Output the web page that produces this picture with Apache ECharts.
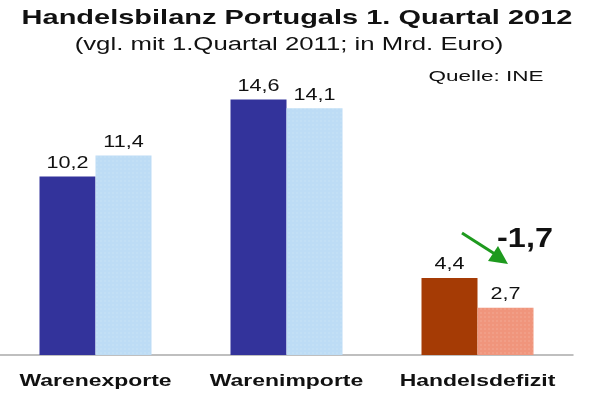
<!DOCTYPE html>
<html><head><meta charset="utf-8">
<script src="https://cdn.jsdelivr.net/npm/echarts@6/dist/echarts.min.js"></script>
<style>html,body{margin:0;padding:0;background:#fff}#main{width:595px;height:400px}</style>
</head><body><div id="main"></div>
<script>
var categories = ['Warenexporte', 'Warenimporte', 'Handelsdefizit'];
var values2011 = [10.2, 14.6, 4.4];
var values2012 = [11.4, 14.1, 2.7];
var colors2011 = ['#33339b', '#33339b', '#a53b05'];
var colors2012 = ['#bddcf5', '#bddcf5', '#f0957c'];
var yearLabels = ['\u201911', '\u201912'];
var change = '-1,7';

var myChart = echarts.init(document.getElementById('main'));
function barData(vals, cols) {
	return vals.map(function (v, i) { return { value: v, itemStyle: { color: cols[i] } }; });
}
var option = {
	animation: false,
	backgroundColor: '#fff',
	grid: { left: -17, width: 590, top: 75, bottom: 45 },
	xAxis: {
		type: 'category', data: categories,
		axisLine: { lineStyle: { color: '#aaa', width: 1.5 } },
		axisTick: { show: false },
		axisLabel: { show: false }
	},
	yAxis: { type: 'value', min: 0, max: 16, show: false, splitLine: { show: false } },
	series: [{
		type: 'bar', barWidth: 56, barGap: '0%', data: barData(values2011, colors2011)
	}, {
		type: 'bar', barWidth: 56, data: barData(values2012, colors2012),
		itemStyle: { decal: { symbol: 'rect', symbolSize: 0.5, color: 'rgba(255,255,255,0.35)', dashArrayX: [2, 2], dashArrayY: [2, 2] } }
	}]
};
myChart.setOption(option);

function txt(s, x, y, font, sx, fill) {
	return {
		type: 'text', x: x, y: y, scaleX: sx,
		style: { text: s, align: 'center', verticalAlign: 'middle', font: font, fill: fill || '#111' }
	};
}
var g = [];
g.push(txt('Handelsbilanz Portugals 1. Quartal 2012', 297, 18, 'bold 21px Liberation Sans', 1.38));
g.push(txt('(vgl. mit 1.Quartal 2011; in Mrd. Euro)', 289, 45, '18px Liberation Sans', 1.43));
g.push(txt('Quelle: INE', 486, 77, '15px Liberation Sans', 1.5));
categories.forEach(function (c, i) {
	var p = myChart.convertToPixel({ xAxisIndex: 0, yAxisIndex: 0 }, [i, 0]);
	g.push(txt(c, p[0], 381, 'bold 17px Liberation Sans', 1.35));
	[values2011[i], values2012[i]].forEach(function (v, k) {
		var x = p[0] + (k === 0 ? -28 : 28);
		var top = myChart.convertToPixel({ xAxisIndex: 0, yAxisIndex: 0 }, [i, v]);
		g.push(txt(String(v).replace('.', ','), x, top[1] - 13, '16px Liberation Sans', 1.35));
		g.push(txt(yearLabels[k], x, p[1] - 26, 'italic bold 17px Liberation Sans', 1.2, k === 0 ? '#fff' : '#111'));
	});
});
g.push({ type: 'line', shape: { x1: 462, y1: 233, x2: 498, y2: 256 }, style: { stroke: '#1e9a1e', lineWidth: 3 } });
g.push({ type: 'polygon', shape: { points: [[508, 264], [488, 261], [498, 246]] }, style: { fill: '#1e9a1e' } });
g.push(txt(change, 525, 240, 'bold 27px Liberation Sans', 1.2));
myChart.setOption({ graphic: g });
</script></body></html>
